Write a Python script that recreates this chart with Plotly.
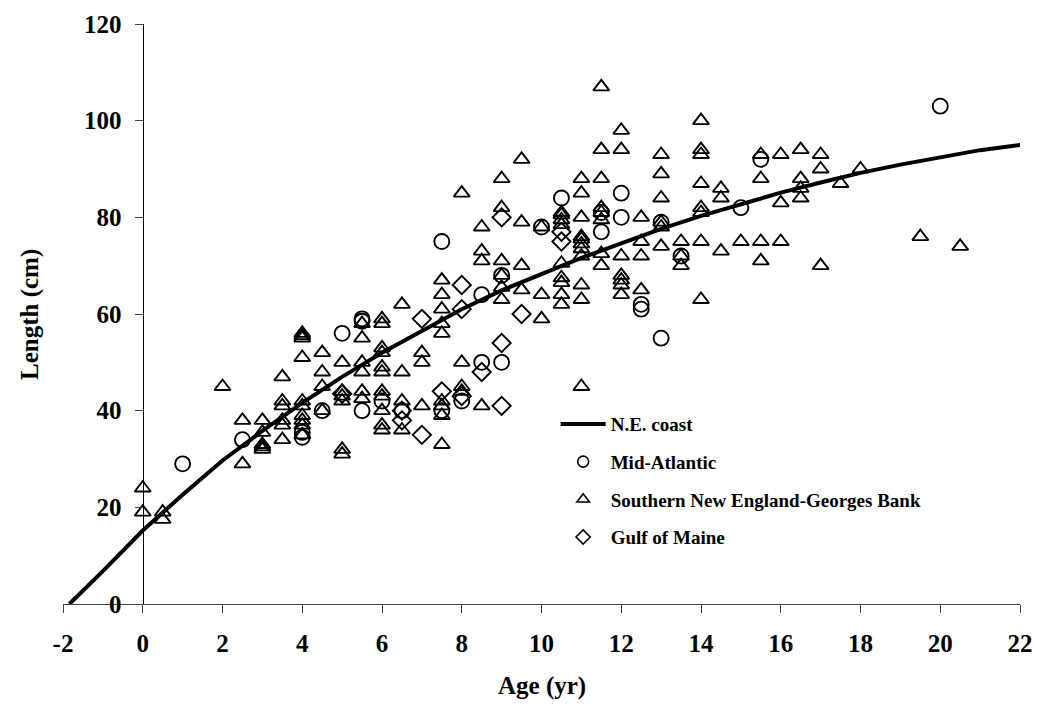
import plotly.graph_objects as go

# Von Bertalanffy growth curve (N.E. coast), points along the fitted line
curve_age = [-1.84, -1, 0, 1, 2, 3, 4, 5, 6, 7, 8, 9, 10, 11, 12, 13, 14,
             15, 16, 17, 18, 19, 20, 21, 22.2]
curve_len = [0, 6.8, 15.2, 22.6, 29.7, 35.8, 41.6, 47.0, 52.0, 56.6, 61.0,
             64.9, 68.3, 71.6, 74.6, 77.6, 80.3, 82.8, 85.1, 87.2, 89.2,
             90.9, 92.5, 93.9, 95.2]

# Mid-Atlantic observations
mid_age = [1, 2.5, 4, 4, 4.5, 5, 5.5, 5.5, 5.5, 6, 6.5, 7.5, 7.5, 8, 8.5,
           8.5, 9, 9, 10, 10.5, 11.5, 11.5, 12, 12, 12.5, 12.5, 13, 13,
           13.5, 15, 15.5, 20]
mid_len = [29, 34, 35.5, 34.5, 40, 56, 59, 58.5, 40, 42, 40, 75, 40, 42, 64,
           50, 68, 50, 78, 84, 81, 77, 85, 80, 62, 61, 79, 55,
           72, 82, 92, 103]

# Southern New England-Georges Bank observations
sne_age = [0, 0,
           0.5, 0.5,
           2,
           2.5, 2.5,
           3, 3, 3, 3, 3,
           3.5, 3.5, 3.5, 3.5, 3.5, 3.5,
           4, 4, 4, 4, 4, 4, 4, 4, 4, 4,
           4.5, 4.5, 4.5, 4.5,
           5, 5, 5, 5, 5, 5,
           5.5, 5.5, 5.5, 5.5, 5.5, 5.5,
           6, 6, 6, 6, 6, 6, 6, 6, 6, 6, 6,
           6.5, 6.5, 6.5, 6.5,
           7, 7, 7,
           7.5, 7.5, 7.5, 7.5, 7.5, 7.5, 7.5, 7.5, 7.5,
           8, 8, 8, 8,
           8.5, 8.5, 8.5, 8.5,
           9, 9, 9, 9, 9, 9,
           9.5, 9.5, 9.5, 9.5,
           10, 10, 10,
           10.5, 10.5, 10.5, 10.5, 10.5, 10.5, 10.5, 10.5, 10.5,
           11, 11, 11, 11, 11, 11, 11, 11, 11, 11, 11,
           11.5, 11.5, 11.5, 11.5, 11.5, 11.5, 11.5, 11.5,
           12, 12, 12, 12, 12, 12, 12,
           12.5, 12.5, 12.5, 12.5,
           13, 13, 13, 13, 13, 13,
           13.5, 13.5, 13.5,
           14, 14, 14, 14, 14, 14, 14, 14,
           14.5, 14.5, 14.5,
           15,
           15.5, 15.5, 15.5, 15.5,
           16, 16, 16,
           16.5, 16.5, 16.5, 16.5,
           17, 17, 17,
           17.5,
           18,
           19.5,
           20.5]
sne_len = [24, 19,
           19, 17.5,
           45,
           38, 29,
           38, 35.5, 33, 32.5, 32,
           47, 42, 41, 38, 37, 34,
           56, 55.5, 55, 51, 42, 41, 39, 38, 37, 35,
           52, 48, 45, 40,
           50, 44, 43, 42, 32, 31,
           58, 55, 50, 48, 44, 42.5,
           59, 58, 53, 52, 49, 48, 44, 43, 40, 37, 36,
           62, 48, 42, 36,
           52, 50, 41,
           67, 64, 61, 58, 56, 42, 41, 39, 33,
           85, 50, 45, 44,
           78, 73, 71, 41,
           88, 82, 71, 68, 65.5, 63,
           92, 79, 70, 65,
           78, 64, 59,
           81, 80.5, 79.5, 78.5, 70.5, 67.5, 66.5, 64, 62,
           88, 85, 80, 76, 75.5, 74.5, 73.5, 72, 66, 63, 45,
           107, 94, 88, 82, 81, 79.5, 72.5, 70,
           98, 94, 72, 68, 67, 66, 64,
           80, 75, 72, 65,
           93, 89, 84, 79, 78, 74,
           75, 72, 70,
           100, 94, 93, 87, 82, 81, 75, 63,
           86, 84, 73,
           75,
           93, 88, 75, 71,
           93, 83, 75,
           94, 88, 86, 84,
           93, 90, 70,
           87,
           90,
           76,
           74]

# Gulf of Maine observations
gom_age = [5, 6.5, 6.5, 7, 7, 7.5, 8, 8, 8, 8.5, 9, 9, 9, 9.5, 10.5, 10.5]
gom_len = [43.5, 40, 38, 59, 35, 44, 66, 61, 43, 48, 80, 54, 41, 60, 77, 75]

x_ticks = list(range(-2, 23, 2))
y_ticks = list(range(0, 121, 20))

FONT = "Liberation Serif, Times New Roman, serif"
marker_line = dict(color="black", width=1.9)
key_line = dict(color="black", width=1.6)

series = [
    ("Mid-Atlantic", mid_age, mid_len, "circle-open", 15),
    ("Southern New England-Georges Bank", sne_age, sne_len, "triangle-up-open", 14),
    ("Gulf of Maine", gom_age, gom_len, "diamond-open", 14),
]

fig = go.Figure()
fig.add_trace(go.Scatter(
    x=curve_age, y=curve_len, mode="lines", name="N.E. coast",
    line=dict(color="black", width=4), legendgroup="g0"))

for i, (name, ages, lens, symbol, size) in enumerate(series, start=1):
    # observed points
    fig.add_trace(go.Scatter(
        x=ages, y=lens, mode="markers", name=name, showlegend=False,
        marker=dict(symbol=symbol, size=size, color="black", line=marker_line),
        legendgroup=f"g{i}"))
    # smaller key symbol for the legend
    fig.add_trace(go.Scatter(
        x=[None], y=[None], mode="markers", name=name, showlegend=True,
        marker=dict(symbol=symbol, size=11, color="black", line=key_line),
        legendgroup=f"g{i}"))

fig.update_layout(
    width=1038, height=704,
    margin=dict(l=63, r=18, t=24, b=100, autoexpand=False),
    paper_bgcolor="white", plot_bgcolor="white",
    font=dict(family=FONT, size=25, color="black", weight="bold"),
    showlegend=True,
    legend=dict(
        x=0.5148, y=0.343, xanchor="left", yanchor="top",
        font=dict(family=FONT, size=19, color="black", weight="bold"),
        bgcolor="rgba(0,0,0,0)", tracegroupgap=10, itemwidth=45,
    ),
    xaxis=dict(
        range=[-2, 22], tickvals=x_ticks, ticktext=[str(v) for v in x_ticks],
        showline=True, linecolor="#444", linewidth=1.3,
        ticks="outside", ticklen=8, tickcolor="#444", tickwidth=1.3,
        showgrid=False, zeroline=False, anchor="y", automargin=False,
        tickfont=dict(family=FONT, size=25, color="black", weight="bold"),
        ticklabelstandoff=9,
    ),
    yaxis=dict(
        range=[0, 120], tickvals=y_ticks, ticktext=[str(v) for v in y_ticks],
        showline=True, linecolor="black", linewidth=1.3,
        ticks="outside", ticklen=8, tickcolor="#444", tickwidth=1.3,
        showgrid=False, zeroline=False, anchor="free", position=2 / 24,
        automargin=False,
        tickfont=dict(family=FONT, size=25, color="black", weight="bold"),
        ticklabelstandoff=8,
    ),
    annotations=[
        dict(text="Age (yr)", xref="paper", yref="paper", x=0.5, y=-0.142,
             xanchor="center", yanchor="middle", showarrow=False,
             font=dict(family=FONT, size=25, color="black", weight="bold")),
        dict(text="Length (cm)", xref="paper", yref="paper", x=-0.0345, y=0.5,
             xanchor="center", yanchor="middle", textangle=-90, showarrow=False,
             font=dict(family=FONT, size=25, color="black", weight="bold")),
    ],
)

fig.write_html("out.html")
